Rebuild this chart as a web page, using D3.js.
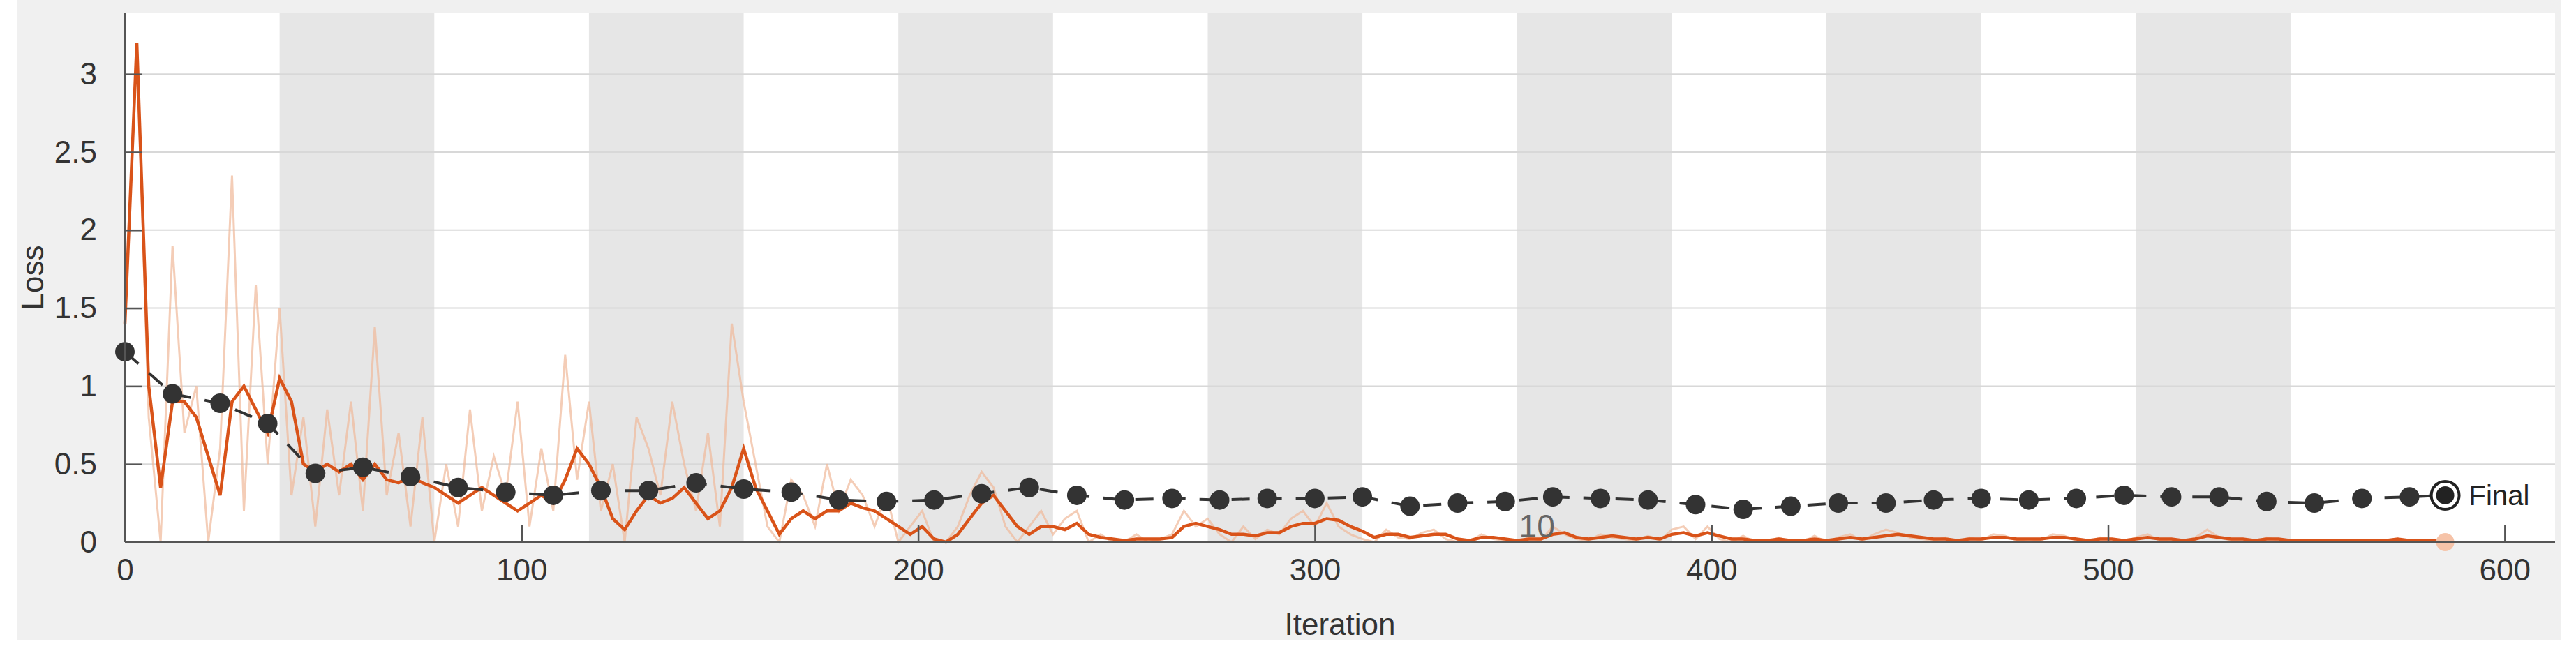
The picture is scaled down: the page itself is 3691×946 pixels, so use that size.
<!DOCTYPE html>
<html><head><meta charset="utf-8">
<script src="https://cdn.jsdelivr.net/npm/d3@7"></script>
<style>body{margin:0;background:#fff}svg{display:block}</style>
</head><body>
<svg id="c" width="3691" height="946"></svg>
<script>
// --- data ---
const itersPerEpoch = 39;
const numEpochs = 15;
const xTicks = [0,100,200,300,400,500,600];
const yTicks = [0,0.5,1,1.5,2,2.5,3];
const step = 3; // training values sampled every 3 iterations, starting at 0
const smoothLoss = [1.4,3.2,1.0,0.35,0.9,0.9,0.8,0.55,0.3,0.9,1.0,0.85,0.7,1.05,0.9,0.5,0.45,0.5,0.45,0.5,0.4,0.5,0.4,0.38,0.42,0.38,0.35,0.3,0.25,0.3,0.35,0.3,0.25,0.2,0.25,0.3,0.25,0.4,0.6,0.5,0.35,0.15,0.08,0.2,0.3,0.25,0.28,0.35,0.25,0.15,0.2,0.35,0.6,0.35,0.2,0.05,0.15,0.2,0.15,0.2,0.2,0.25,0.22,0.2,0.15,0.1,0.05,0.1,0.02,0.0,0.05,0.15,0.25,0.3,0.2,0.1,0.05,0.1,0.1,0.08,0.12,0.05,0.03,0.02,0.01,0.02,0.02,0.02,0.03,0.1,0.12,0.1,0.08,0.05,0.05,0.04,0.06,0.06,0.1,0.12,0.12,0.15,0.14,0.1,0.07,0.03,0.05,0.05,0.03,0.04,0.05,0.05,0.02,0.01,0.03,0.03,0.02,0.01,0.02,0.02,0.05,0.06,0.03,0.02,0.03,0.04,0.03,0.02,0.03,0.02,0.05,0.06,0.04,0.06,0.04,0.02,0.02,0.01,0.01,0.02,0.01,0.01,0.02,0.01,0.02,0.03,0.02,0.03,0.04,0.05,0.04,0.03,0.02,0.02,0.01,0.02,0.02,0.03,0.03,0.02,0.02,0.02,0.03,0.03,0.02,0.01,0.02,0.02,0.01,0.02,0.03,0.02,0.02,0.01,0.02,0.04,0.03,0.02,0.02,0.01,0.02,0.02,0.01,0.01,0.01,0.01,0.01,0.01,0.01,0.01,0.01,0.02,0.01,0.01,0.01,0.01];
const rawLoss = [1.4,3.2,0.8,0.0,1.9,0.7,1.0,0.0,0.6,2.35,0.2,1.65,0.5,1.5,0.3,0.8,0.1,0.85,0.3,0.9,0.2,1.38,0.3,0.7,0.1,0.8,0.0,0.5,0.1,0.85,0.2,0.55,0.3,0.9,0.1,0.6,0.2,1.2,0.4,0.9,0.2,0.5,0.0,0.8,0.6,0.3,0.9,0.5,0.2,0.7,0.1,1.4,0.9,0.5,0.1,0.0,0.4,0.3,0.1,0.5,0.2,0.4,0.3,0.1,0.3,0.0,0.1,0.2,0.0,0.0,0.1,0.3,0.45,0.35,0.1,0.0,0.1,0.2,0.05,0.15,0.2,0.0,0.05,0.0,0.0,0.05,0.0,0.02,0.05,0.2,0.1,0.15,0.05,0.0,0.1,0.02,0.08,0.05,0.15,0.2,0.1,0.25,0.1,0.05,0.02,0.0,0.08,0.03,0.02,0.06,0.08,0.02,0.0,0.0,0.05,0.02,0.01,0.0,0.03,0.01,0.1,0.05,0.02,0.01,0.05,0.03,0.02,0.01,0.04,0.01,0.08,0.1,0.02,0.1,0.02,0.0,0.04,0.0,0.0,0.03,0.0,0.0,0.04,0.0,0.03,0.05,0.01,0.05,0.08,0.06,0.03,0.02,0.01,0.03,0.0,0.03,0.01,0.05,0.04,0.01,0.02,0.01,0.05,0.04,0.01,0.0,0.03,0.02,0.0,0.03,0.05,0.01,0.02,0.0,0.03,0.08,0.03,0.01,0.02,0.0,0.03,0.01,0.0,0.01,0.0,0.01,0.0,0.01,0.0,0.01,0.0,0.02,0.0,0.01,0.0,0.0];
const valIters = [0,12,24,36,48,60,72,84,96,108,120,132,144,156,168,180,192,204,216,228,240,252,264,276,288,300,312,324,336,348,360,372,384,396,408,420,432,444,456,468,480,492,504,516,528,540,552,564,576];
const valLoss = [1.22,0.95,0.89,0.76,0.44,0.48,0.42,0.35,0.32,0.30,0.33,0.33,0.38,0.34,0.32,0.27,0.26,0.27,0.31,0.35,0.30,0.27,0.28,0.27,0.28,0.28,0.29,0.23,0.25,0.26,0.29,0.28,0.27,0.24,0.21,0.23,0.25,0.25,0.27,0.28,0.27,0.28,0.30,0.29,0.29,0.26,0.25,0.28,0.29];
const finalIter = 585, finalVal = 0.30, finalTrain = 0.0;

// --- drawing ---
const svg = d3.select('#c');
const L=179, R=3661, T=19, B=777;
const x = d3.scaleLinear().domain([0,612.7]).range([L,R]);
const y = d3.scaleLinear().domain([0,3.39]).range([B,T]);
const font = 'Liberation Sans, Arial, sans-serif';

svg.append('rect').attr('x',24).attr('y',0).attr('width',3646).attr('height',918).attr('fill','#f0f0f0');
svg.append('rect').attr('x',L).attr('y',T).attr('width',R-L).attr('height',B-T).attr('fill','#fff');
const bands = d3.range(1,numEpochs,2);
svg.selectAll('.band').data(bands).join('rect')
  .attr('x',d=>x(d*itersPerEpoch)).attr('width',d=>x((d+1)*itersPerEpoch)-x(d*itersPerEpoch))
  .attr('y',T).attr('height',B-T).attr('fill','#e6e6e6');
svg.selectAll('.grid').data(yTicks.filter(d=>d>0)).join('line')
  .attr('x1',L).attr('x2',R).attr('y1',d=>y(d)).attr('y2',d=>y(d))
  .attr('stroke','#d8d8d8').attr('stroke-width',2);

const tx = (d,i)=>x(i*step);
svg.append('path').attr('d',d3.line().x(tx).y(d=>y(d))(rawLoss))
  .attr('fill','none').attr('stroke','#f0b899').attr('stroke-opacity',0.7).attr('stroke-width',3);
svg.append('path').attr('d',d3.line().x(tx).y(d=>y(d))(smoothLoss))
  .attr('fill','none').attr('stroke','#d95319').attr('stroke-width',4.5);

const vd = valIters.map((d,i)=>[d,valLoss[i]]).concat([[finalIter,finalVal]]);
svg.append('path').attr('d',d3.line().x(d=>x(d[0])).y(d=>y(d[1]))(vd))
  .attr('fill','none').attr('stroke','#333').attr('stroke-width',4).attr('stroke-dasharray','26,20');
svg.selectAll('.vp').data(vd.slice(0,-1)).join('circle')
  .attr('cx',d=>x(d[0])).attr('cy',d=>y(d[1])).attr('r',14).attr('fill','#333');
svg.append('circle').attr('cx',x(finalIter)).attr('cy',y(finalVal)).attr('r',20).attr('fill','#fff').attr('stroke','#222').attr('stroke-width',4);
svg.append('circle').attr('cx',x(finalIter)).attr('cy',y(finalVal)).attr('r',13).attr('fill','#222');
svg.append('text').attr('x',x(finalIter)+34).attr('y',y(finalVal)+14).text('Final')
  .attr('font-family',font).attr('font-size',40).attr('fill','#222');
svg.append('circle').attr('cx',x(finalIter)).attr('cy',y(finalTrain)).attr('r',13).attr('fill','#f6c3a8');
svg.append('text').attr('x',x(356)).attr('y',y(0.03)).text('10').attr('text-anchor','middle')
  .attr('font-family',font).attr('font-size',46).attr('fill','#666');

// axes
const ax = svg.append('g').attr('transform',`translate(0,${B})`)
  .call(d3.axisBottom(x).tickValues(xTicks).tickSize(-25).tickPadding(24).tickFormat(d3.format('d')));
const ay = svg.append('g').attr('transform',`translate(${L},0)`)
  .call(d3.axisLeft(y).tickValues(yTicks).tickSize(-25).tickPadding(40).tickFormat(d=>String(d)));
[ax,ay].forEach(g=>{
  g.select('.domain').attr('stroke','#555').attr('stroke-width',3);
  g.selectAll('.tick line').attr('stroke','#555').attr('stroke-width',2.5);
  g.selectAll('text').attr('font-family',font).attr('font-size',44).attr('fill','#333');
});
ax.select('.domain').attr('d',`M${L},0H${R}`);
ay.select('.domain').attr('d',`M0,${B}V${T}`);
svg.append('text').attr('x',(L+R)/2).attr('y',910).attr('text-anchor','middle').text('Iteration')
  .attr('font-family',font).attr('font-size',44).attr('fill','#333');
svg.append('text').attr('transform',`translate(62,${(T+B)/2}) rotate(-90)`).attr('text-anchor','middle').text('Loss')
  .attr('font-family',font).attr('font-size',44).attr('fill','#333');
</script></body></html>
